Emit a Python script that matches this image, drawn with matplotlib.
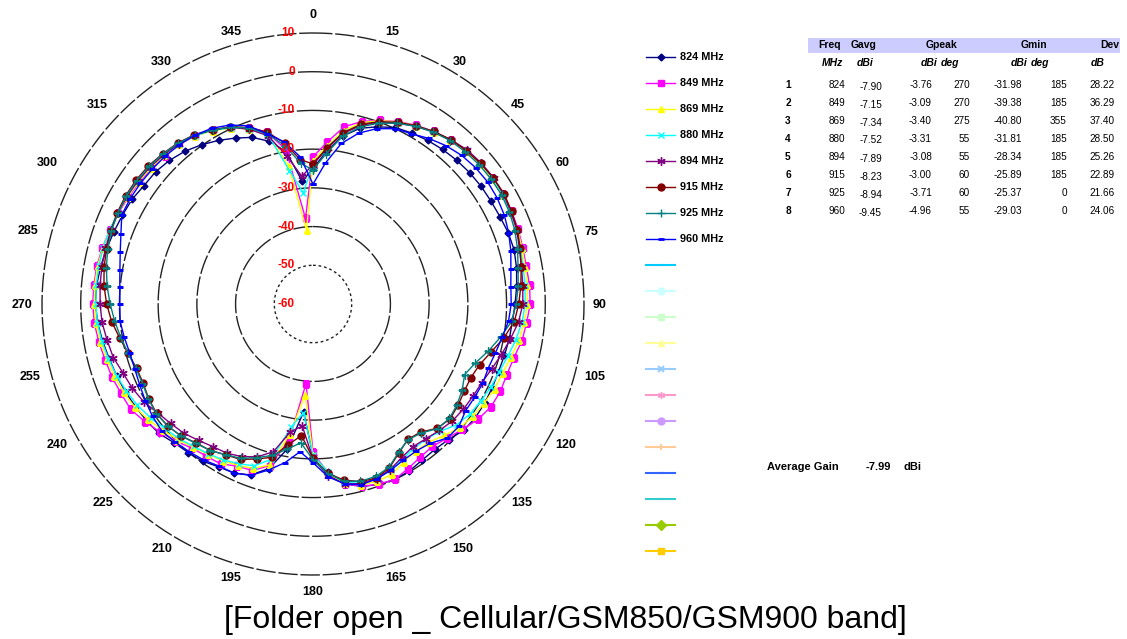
"""Polar radiation pattern, folder open, Cellular/GSM850/GSM900 band."""
import numpy as np
import matplotlib
matplotlib.use("Agg")
import matplotlib.pyplot as plt
from matplotlib.lines import Line2D
from matplotlib.patches import Rectangle

plt.rcParams["font.family"] = ["Liberation Sans", "DejaVu Sans"]

W, H = 1127, 639

ANGLES = list(range(0, 360, 5))

G824 = [-25.0, -20.5, -16.0, -13.0, -11.3, -9.7, -9.0, -8.4, -7.9, -7.5, -7.2, -7.0,
        -6.9, -6.7, -6.3, -6.2, -6.6, -7.2, -7.8, -8.3, -8.5, -8.8, -9.0, -8.9,
        -8.8, -8.8, -9.2, -10.5, -11.0, -10.8, -10.2, -10.0, -10.4, -11.2, -12.8, -16.5,
        -21.0, -31.98, -22.0, -16.0, -13.0, -11.8, -11.4, -10.4, -9.9, -9.3, -8.0, -7.5,
        -7.0, -6.5, -6.0, -5.5, -4.8, -4.2, -3.76, -3.9, -4.3, -4.8, -5.3, -5.7,
        -6.0, -6.7, -6.9, -7.55, -8.5, -9.8, -11.2, -12.7, -14.2, -16.5, -20.0, -28.2]
G849 = [-22.0, -18.0, -13.5, -11.2, -9.5, -8.0, -6.7, -5.6, -4.7, -4.1, -3.6, -3.4,
        -3.3, -3.4, -3.6, -3.9, -4.05, -3.85, -3.9, -4.6, -5.2, -6.3, -6.7, -6.6,
        -6.9, -8.0, -9.6, -11.0, -12.0, -11.7, -10.9, -10.0, -10.4, -11.3, -12.8, -16.0,
        -21.8, -39.38, -24.2, -16.8, -14.2, -13.8, -12.3, -12.0, -11.4, -9.9, -8.5, -7.0,
        -5.6, -5.3, -4.75, -4.4, -3.8, -3.3, -3.09, -3.2, -3.3, -3.7, -4.1, -4.5,
        -4.9, -5.2, -5.5, -5.8, -6.2, -7.0, -8.2, -9.7, -11.5, -14.0, -19.5, -37.8]
G869 = [-23.0, -19.0, -14.5, -11.5, -9.6, -8.1, -6.8, -5.7, -4.8, -4.1, -3.7, -3.5,
        -3.5, -3.6, -3.8, -4.1, -4.4, -4.4, -4.6, -5.2, -6.0, -7.0, -7.9, -8.2,
        -8.9, -9.5, -10.4, -12.0, -13.4, -13.7, -13.0, -11.5, -11.3, -11.6, -13.0, -16.0,
        -21.0, -36.5, -26.0, -17.0, -14.8, -14.0, -13.3, -12.6, -11.8, -10.5, -9.3, -8.0,
        -6.8, -6.0, -5.4, -4.8, -4.2, -3.7, -3.5, -3.40, -3.5, -3.8, -4.1, -4.4,
        -4.7, -5.0, -5.3, -5.7, -6.2, -7.0, -8.3, -9.9, -11.8, -14.5, -23.9, -40.8]
G880 = [-24.0, -19.5, -15.0, -12.0, -9.9, -8.3, -6.9, -5.6, -4.6, -3.9, -3.5, -3.31,
        -3.4, -3.7, -4.0, -4.5, -4.9, -5.0, -5.2, -5.8, -6.8, -7.9, -8.8, -9.3,
        -9.9, -10.5, -11.5, -13.5, -14.5, -14.5, -13.8, -12.6, -12.0, -12.0, -13.2, -16.5,
        -21.0, -31.81, -27.8, -18.5, -15.5, -14.5, -13.5, -12.8, -12.0, -10.9, -10.0, -8.8,
        -7.6, -6.8, -6.0, -5.3, -4.6, -4.1, -3.9, -3.8, -3.8, -3.9, -4.1, -4.3,
        -4.5, -4.7, -5.0, -5.4, -6.0, -6.9, -8.2, -9.8, -11.8, -14.5, -25.0, -31.2]
G894 = [-24.0, -19.8, -15.3, -12.2, -10.1, -8.4, -7.0, -5.7, -4.6, -3.7, -3.3, -3.08,
        -3.2, -3.6, -4.0, -4.8, -5.3, -5.6, -5.8, -6.7, -8.2, -9.6, -10.9, -11.9,
        -12.3, -12.6, -13.0, -13.8, -14.6, -15.0, -14.2, -12.8, -12.0, -12.0, -12.8, -15.5,
        -20.0, -28.34, -26.5, -20.5, -18.0, -16.5, -15.5, -15.0, -14.0, -12.8, -12.0, -11.0,
        -9.5, -8.5, -7.8, -6.6, -6.0, -5.3, -5.0, -4.8, -4.6, -4.5, -4.4, -4.4,
        -4.5, -4.7, -5.0, -5.5, -6.0, -6.8, -8.0, -9.6, -12.0, -15.0, -21.2, -26.9]
G915 = [-23.8, -19.6, -15.1, -11.9, -9.9, -8.2, -6.8, -5.6, -4.6, -4.0, -3.5, -3.2,
        -3.0, -3.4, -3.8, -4.6, -5.4, -6.1, -6.85, -7.8, -9.9, -12.3, -14.2, -15.0,
        -14.9, -14.3, -13.8, -14.6, -16.8, -17.3, -15.6, -13.3, -12.2, -12.5, -13.8, -16.1,
        -20.1, -25.89, -23.1, -19.0, -17.4, -15.7, -15.0, -13.8, -13.1, -11.8, -11.0, -10.7,
        -11.0, -11.6, -11.5, -10.6, -9.3, -7.8, -6.7, -5.8, -5.2, -4.8, -4.5, -4.2,
        -4.1, -4.2, -4.5, -5.1, -5.7, -6.6, -8.1, -9.5, -11.5, -14.0, -17.8, -22.6]
G925 = [-25.37, -21.0, -16.0, -12.6, -10.3, -8.5, -7.0, -5.8, -4.9, -4.4, -4.0, -3.8,
        -3.71, -4.0, -4.5, -5.3, -6.2, -6.8, -7.5, -8.5, -10.8, -13.1, -15.4, -16.8,
        -15.5, -14.6, -14.0, -14.5, -16.5, -17.2, -15.8, -13.5, -12.6, -12.6, -13.5, -16.0,
        -19.8, -24.0, -22.0, -19.5, -17.8, -16.0, -15.0, -13.8, -13.0, -11.8, -11.0, -10.6,
        -10.9, -11.4, -11.3, -10.6, -9.6, -8.6, -7.6, -6.6, -5.8, -5.1, -4.6, -4.4,
        -4.3, -4.4, -4.7, -5.2, -5.8, -6.7, -8.1, -9.6, -11.6, -14.5, -18.5, -23.5]
G960 = [-29.03, -23.5, -17.9, -14.3, -11.8, -10.05, -9.2, -7.8, -6.6, -5.7, -5.2, -4.96,
        -5.1, -5.5, -6.2, -7.1, -8.1, -8.7, -8.8, -9.3, -10.4, -11.2, -11.8, -11.6,
        -11.8, -11.9, -10.8, -11.0, -13.0, -13.6, -13.4, -12.6, -11.9, -11.7, -12.8, -15.2,
        -19.0, -21.7, -18.4, -15.6, -12.9, -11.8, -11.6, -10.8, -10.2, -9.6, -9.0, -9.4,
        -10.0, -10.6, -11.0, -11.0, -10.5, -9.95, -10.1, -9.9, -9.35, -8.45, -7.2, -5.5,
        -5.5, -5.6, -5.8, -6.0, -6.3, -6.8, -7.6, -9.0, -11.0, -14.5, -17.5, -21.8]

SERIES = [
    ("824 MHz", G824, "#000080", "D", 3.5),
    ("849 MHz", G849, "#FF00FF", "s", 4.5),
    ("869 MHz", G869, "#FFFF00", "^", 5),
    ("880 MHz", G880, "#00FFFF", "x", 5),
    ("894 MHz", G894, "#800080", (6, 2, 0), 6),
    ("915 MHz", G915, "#800000", "o", 5),
    ("925 MHz", G925, "#008080", "+", 6),
    ("960 MHz", G960, "#0000FF", "_", 4),
]
# unused legend slots (Excel defaults 9-20)
EXTRA = [("#00CCFF", "_"), ("#CCFFFF", "o"), ("#CCFFCC", "s"), ("#FFFF99", "^"),
         ("#99CCFF", "x"), ("#FF99CC", (6, 2, 0)), ("#CC99FF", "o"), ("#FFCC99", "|"),
         ("#3366FF", "_"), ("#33CCCC", "_"), ("#99CC00", "D"), ("#FFCC00", "s")]

RINGS = [10, 0, -10, -20, -30, -40, -50, -60]
THETA_LABELS = list(range(0, 360, 15))
# where the chart puts each angle label (pixel centre)
THETA_LABEL_XY = [(313, 15), (392, 32), (460, 62), (518, 105), (563, 163), (591, 232),
                  (600, 305), (595, 377), (566, 445), (522, 503), (463, 549), (396, 578),
                  (313, 592), (231, 578), (162, 549), (103, 503), (57, 445), (30, 377),
                  (22, 305), (28, 231), (47, 163), (97, 105), (161, 62), (231, 32)]

# table values
IDX = ["1", "2", "3", "4", "5", "6", "7", "8"]
FREQ = ["824", "849", "869", "880", "894", "915", "925", "960"]
GAVG = ["-7.90", "-7.15", "-7.34", "-7.52", "-7.89", "-8.23", "-8.94", "-9.45"]
GPEAK = ["-3.76", "-3.09", "-3.40", "-3.31", "-3.08", "-3.00", "-3.71", "-4.96"]
GPEAK_DEG = ["270", "270", "275", "55", "55", "60", "60", "55"]
GMIN = ["-31.98", "-39.38", "-40.80", "-31.81", "-28.34", "-25.89", "-25.37", "-29.03"]
GMIN_DEG = ["185", "185", "355", "185", "185", "185", "0", "0"]
DEV = ["28.22", "36.29", "37.40", "28.50", "25.26", "22.89", "21.66", "24.06"]


def px(x, y):
    return x / W, 1 - y / H


fig = plt.figure(figsize=(W / 100, H / 100), dpi=100)
cx, cy, R = 313, 304, 271
ax = fig.add_axes([(cx - R) / W, (H - cy - R) / H, 2 * R / W, 2 * R / H],
                  projection="polar")
ax.set_theta_zero_location("N")
ax.set_theta_direction(-1)
ax.set_ylim(-60, 10)
ax.spines["polar"].set_visible(False)
ax.grid(False)
ax.set_yticks([])
ax.set_xticks([])

tt = np.linspace(0, 2 * np.pi, 400)
for r in RINGS[:-1]:
    ls = (0, (2, 2)) if r == -50 else (0, (14, 2))
    ax.plot(tt, np.full_like(tt, r), color="#222222", lw=1.0, ls=ls, zorder=1,
            clip_on=False)

th = np.deg2rad(ANGLES + [ANGLES[0]])
for label, vals, color, mk, ms in SERIES:
    ax.plot(th, vals + [vals[0]], color=color, lw=1.0, marker=mk, ms=ms,
            mew=1.0 if mk != "_" else 2.0, zorder=3)

for r in RINGS:
    ax.annotate(str(r), xy=(0, r), xytext=(-18, 0), textcoords="offset pixels",
                ha="right", va="center", color="#FF0000", fontsize=8.5,
                fontweight="bold", zorder=5)

for a, (x, y) in zip(THETA_LABELS, THETA_LABEL_XY):
    fig.text(*px(x, y), str(a), fontsize=9, fontweight="bold", ha="center", va="center")

# legend, drawn by hand to keep the 26 px rows
for i, (label, vals, color, mk, ms) in enumerate(SERIES):
    y = 56.7 + 26 * i
    fig.add_artist(Line2D([646 / W, 675 / W], [1 - y / H] * 2, color=color, lw=1.0,
                          transform=fig.transFigure))
    fig.add_artist(Line2D([661 / W], [1 - y / H], color=color, marker=mk, ms=ms,
                          mew=1.0 if mk != "_" else 2.0, transform=fig.transFigure))
    fig.text(*px(680, y), label, fontsize=7.8, fontweight="bold", va="center")
for j, (color, mk) in enumerate(EXTRA):
    y = 56.7 + 26 * (8 + j)
    fig.add_artist(Line2D([646 / W, 675 / W], [1 - y / H] * 2, color=color, lw=1.5,
                          transform=fig.transFigure))
    fig.add_artist(Line2D([661 / W], [1 - y / H], color=color, marker=mk, ms=5,
                          mew=1.5 if mk in ("_", "x", "|") else 1.0,
                          transform=fig.transFigure))

# summary table
fig.add_artist(Rectangle(px(808, 53), 312 / W, 15 / H, transform=fig.transFigure,
                         color="#CCCCFF", lw=0, zorder=0))
for txt, x in [("Freq", 830), ("Gavg", 864), ("Gpeak", 942), ("Gmin", 1034), ("Dev", 1110)]:
    fig.text(*px(x, 45.5), txt, fontsize=7.5, fontweight="bold", ha="center", va="center")
for txt, x in [("MHz", 833), ("dBi", 865), ("dBi", 929), ("deg", 950), ("dBi", 1019),
               ("deg", 1040), ("dB", 1097.5)]:
    fig.text(*px(x, 63), txt, fontsize=7.5, fontweight="bold", style="italic",
             ha="center", va="center")
cols = [(FREQ, 845), (GAVG, 882), (GPEAK, 932), (GPEAK_DEG, 970), (GMIN, 1022),
        (GMIN_DEG, 1067), (DEV, 1115)]
for i in range(len(FREQ)):
    y = 85 + 18 * i
    fig.text(*px(788, y), IDX[i], fontsize=7.3, fontweight="bold", ha="center", va="center")
    for col, x in cols:
        dy = 1.5 if col is GAVG else 0
        fig.text(*px(x, y + dy), col[i], fontsize=7.2, ha="right", va="center")

fig.text(*px(767, 467), "Average Gain", fontsize=8, fontweight="bold", va="center")
fig.text(*px(866, 467), "-7.99", fontsize=8, fontweight="bold", va="center")
fig.text(*px(904, 467), "dBi", fontsize=8, fontweight="bold", va="center")

fig.text(*px(565, 620), "[Folder open _ Cellular/GSM850/GSM900 band]", fontsize=23,
         ha="center", va="center")

fig.savefig("out.png", dpi=100)
